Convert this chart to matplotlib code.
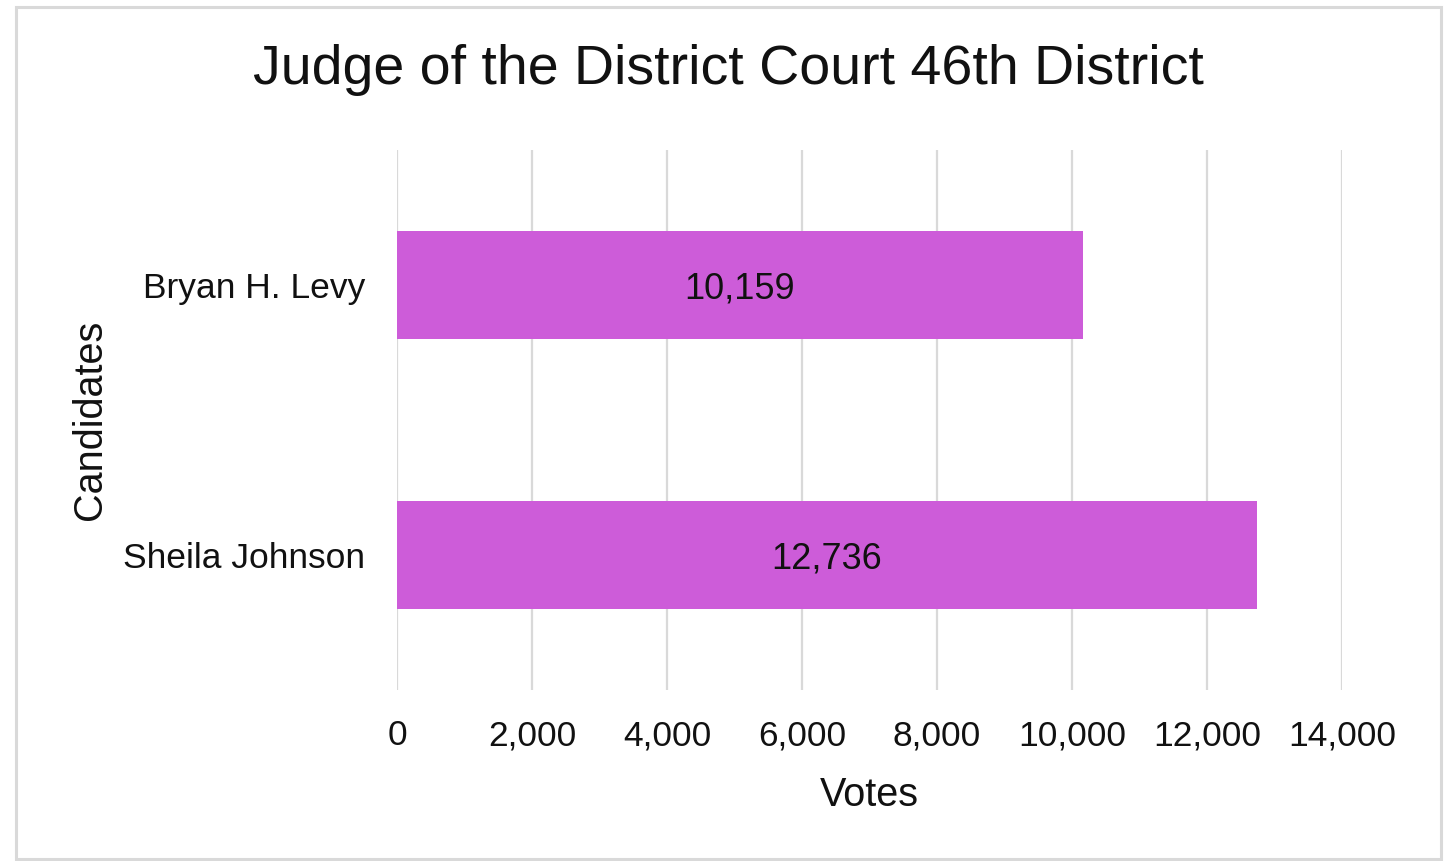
import matplotlib.pyplot as plt
from matplotlib.patches import Rectangle
from matplotlib.ticker import FuncFormatter

# Data
candidates = ['Bryan H. Levy', 'Sheila Johnson']
votes = [10159, 12736]
xticks = [0, 2000, 4000, 6000, 8000, 10000, 12000, 14000]

plt.rcParams['font.family'] = ['Liberation Sans', 'DejaVu Sans']

fig = plt.figure(figsize=(14.52, 8.61), dpi=100)
ax = fig.add_axes([397 / 1452, 1 - 690 / 861, (1342 - 397) / 1452, 540 / 861])

# outer chart border
fig.patches.append(Rectangle((16 / 1452, 1 - 859 / 861), 1425 / 1452, 852 / 861,
                             transform=fig.transFigure, fill=False,
                             edgecolor='#d9d9d9', linewidth=2.2))

bars = ax.barh(range(len(candidates)), votes, height=0.4, color='#cd5cd9', zorder=3)
for b, v in zip(bars, votes):
    ax.text(b.get_width() / 2, b.get_y() + b.get_height() / 2 + 0.015, f'{v:,}',
            ha='center', va='center', fontsize=26, color='#111111', zorder=4)

ax.set_xlim(0, 14000)
ax.set_ylim(1.5, -0.5)
ax.set_xticks(xticks)
ax.xaxis.set_major_formatter(FuncFormatter(lambda x, p: f'{int(x):,}'))
ax.set_yticks(range(len(candidates)))
ax.set_yticklabels(candidates)
ax.tick_params(axis='x', length=0, pad=21, labelsize=25.5, labelcolor='#111111')
ax.tick_params(axis='y', length=0, pad=23, labelsize=25.5, labelcolor='#111111')
ax.grid(axis='x', color='#d9d9d9', linewidth=1.6, zorder=0)
for s in ax.spines.values():
    s.set_visible(False)

ax.set_xlabel('Votes', fontsize=28.5, labelpad=17, color='#111111')
ax.set_ylabel('Candidates', fontsize=28.5, labelpad=10, color='#111111')
fig.text(728 / 1452, 1 - 70 / 861, 'Judge of the District Court 46th District',
         ha='center', va='center', fontsize=40, color='#111111')

fig.savefig('out.png', dpi=100)
